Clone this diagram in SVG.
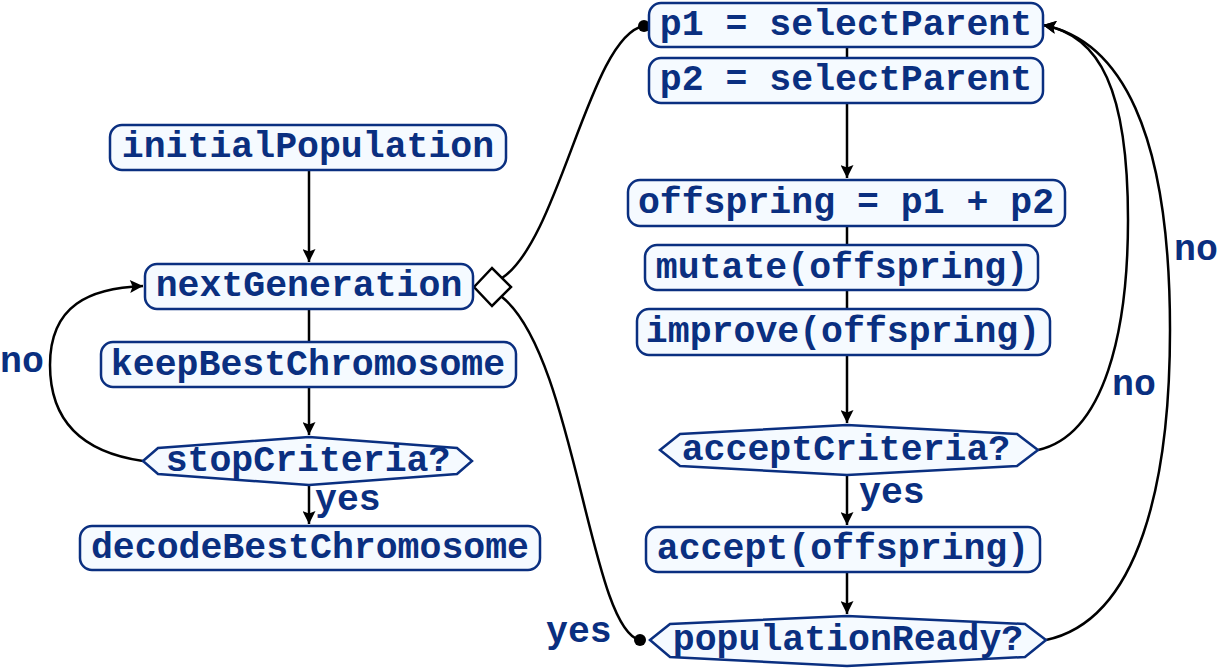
<svg xmlns="http://www.w3.org/2000/svg" width="1221" height="670" viewBox="0 0 1221 670">
<defs>
<marker id="arrv" viewBox="0 0 10 10" refX="10" refY="5" markerWidth="22" markerHeight="13" markerUnits="userSpaceOnUse" orient="auto"><path d="M0,0 L10,5 L0,10 L2,5 Z" fill="#000"/></marker>
<marker id="dot" viewBox="0 0 10 10" refX="5" refY="5" markerWidth="12" markerHeight="12" markerUnits="userSpaceOnUse"><circle cx="5" cy="5" r="5" fill="#000"/></marker>
</defs>
<style>
.n{fill:#f5faff;stroke:#0a2f80;stroke-width:2.5}
.t{font-family:"Liberation Mono","Courier New",monospace;font-weight:bold;font-size:36.5px;fill:#0a2f80;text-anchor:middle;dominant-baseline:central}
.l{font-family:"Liberation Mono","Courier New",monospace;font-weight:bold;font-size:36.5px;fill:#0a2f80;dominant-baseline:central}
.c{fill:none;stroke:#000;stroke-width:2.5}
</style>
<g id="connectors">
<path class="c" d="M309,170 V262" marker-end="url(#arrv)"/>
<path class="c" d="M309,309 V342"/>
<path class="c" d="M309,387 V435" marker-end="url(#arrv)"/>
<path class="c" d="M309,485 V524" marker-end="url(#arrv)"/>
<path class="c" d="M143,461 C80,452 50,420 50,365 C50,305 90,288 143,286" marker-end="url(#arrv)"/>
<path class="c" d="M502,278 C560,240 590,35 644,26" marker-end="url(#dot)"/>
<path class="c" d="M502,297 C575,355 590,630 640,640" marker-end="url(#dot)"/>
<path class="c" d="M847,47 V58"/>
<path class="c" d="M847,103 V178" marker-end="url(#arrv)"/>
<path class="c" d="M847,226 V245"/>
<path class="c" d="M847,290 V309"/>
<path class="c" d="M847,355 V423" marker-end="url(#arrv)"/>
<path class="c" d="M847,475 V525" marker-end="url(#arrv)"/>
<path class="c" d="M847,572 V614" marker-end="url(#arrv)"/>
<path class="c" d="M1038,450 C1105,435 1128,330 1128,220 C1128,90 1100,35 1043,25" marker-end="url(#arrv)"/>
<path class="c" d="M1046,640 C1140,620 1170,480 1170,330 C1170,130 1120,40 1043,25" marker-end="url(#arrv)"/>
<path d="M474,287 L492,268 L511,287 L492,306 Z" fill="#fff" stroke="#000" stroke-width="2.5"/>
</g>
<g id="initialPopulation"><rect class="n" x="110" y="125" width="396" height="45" rx="12"/><text class="t" x="308" y="147">initialPopulation</text></g>
<g id="nextGeneration"><rect class="n" x="145" y="264" width="328" height="45" rx="12"/><text class="t" x="309" y="286">nextGeneration</text></g>
<g id="keepBestChromosome"><rect class="n" x="101" y="342" width="415" height="45" rx="12"/><text class="t" x="308" y="365">keepBestChromosome</text></g>
<g id="stopCriteria"><path class="n" d="M143,461 L158,448 L309,437 L457,448 L472,461 L457,474 L309,485 L158,474 Z"/><text class="t" x="308" y="461">stopCriteria?</text></g>
<g id="decodeBestChromosome"><rect class="n" x="80" y="526" width="460" height="44" rx="12"/><text class="t" x="310" y="548">decodeBestChromosome</text></g>
<g id="p1"><rect class="n" x="649" y="3" width="394" height="44" rx="12"/><text class="t" x="846" y="25">p1 = selectParent</text></g>
<g id="p2"><rect class="n" x="649" y="58" width="394" height="45" rx="12"/><text class="t" x="846" y="80">p2 = selectParent</text></g>
<g id="offspring"><rect class="n" x="628" y="180" width="437" height="46" rx="12"/><text class="t" x="846" y="203">offspring = p1 + p2</text></g>
<g id="mutate"><rect class="n" x="645" y="245" width="393" height="45" rx="12"/><text class="t" x="842" y="268">mutate(offspring)</text></g>
<g id="improve"><rect class="n" x="637" y="309" width="413" height="46" rx="12"/><text class="t" x="843" y="332">improve(offspring)</text></g>
<g id="acceptCriteria"><path class="n" d="M660,450 L680,434 L847,425 L1017,434 L1038,450 L1017,466 L847,475 L680,466 Z"/><text class="t" x="846" y="450">acceptCriteria?</text></g>
<g id="accept"><rect class="n" x="646" y="527" width="394" height="45" rx="12"/><text class="t" x="843" y="549">accept(offspring)</text></g>
<g id="populationReady"><path class="n" d="M650,640 L670,624 L847,616 L1025,624 L1046,640 L1025,657 L847,666 L670,657 Z"/><text class="t" x="848" y="640">populationReady?</text></g>
<g id="labels">
<text class="l" x="0" y="362">no</text>
<text class="l" x="315" y="500">yes</text>
<text class="l" x="859" y="493">yes</text>
<text class="l" x="546" y="632">yes</text>
<text class="l" x="1112" y="385">no</text>
<text class="l" x="1174" y="250">no</text>
</g>
</svg>
